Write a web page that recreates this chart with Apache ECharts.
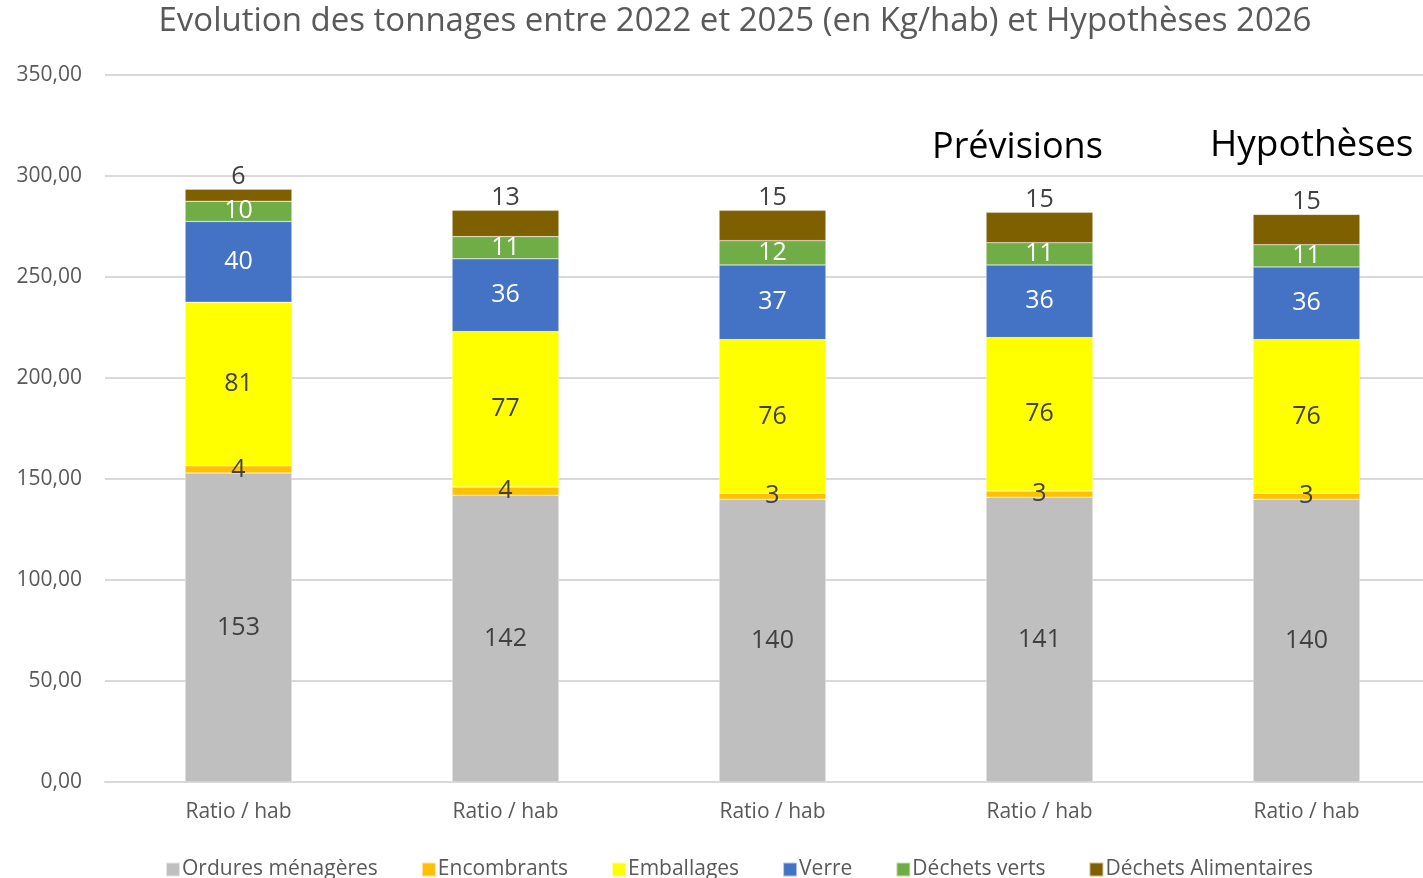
<!DOCTYPE html>
<html>
<head>
<meta charset="utf-8">
<script src="https://cdn.jsdelivr.net/npm/echarts@6/dist/echarts.min.js"></script>
<style>
  html, body { margin: 0; padding: 0; background: #fff; }
  #chart { width: 1423px; height: 878px; }
</style>
</head>
<body>
<div id="chart"></div>
<script>
// categories (one per year, all labelled the same in the source)
const categories = ['Ratio / hab', 'Ratio / hab ', 'Ratio / hab  ', 'Ratio / hab   ', 'Ratio / hab    ']
const yTicks = [0, 50, 100, 150, 200, 250, 300, 350]

// kg / habitant, 2022 -> 2026
const ordures = [153, 142, 140, 141, 140]
const encombrants = [3.5, 4, 3, 3, 3]
const emballages = [81, 77, 76, 76, 76]
const verre = [40, 36, 37, 36, 36]
const dechetsVerts = [10, 11, 12, 11, 11]
const dechetsAlim = [6, 13, 15, 15, 15]

const FONT = 'Open Sans'
const chart = echarts.init(document.getElementById('chart'))

function serie(name, data, color, labelColor, pos) {
  return {
    name: name,
    type: 'bar',
    stack: 'total',
    barWidth: '40%',
    data: data,
    itemStyle: { color: color, borderColor: 'rgba(255,255,255,0.6)', borderWidth: 0.5 },
    label: {
      show: true,
      position: pos || 'inside',
      distance: 0,
      color: labelColor,
      fontFamily: FONT,
      fontSize: 25,
      formatter: (p) => Math.round(p.value),
    },
  }
}

const option = {
  animation: false,
  backgroundColor: '#fff',
  title: {
    text: 'Evolution des tonnages entre 2022 et 2025 (en Kg/hab) et Hypothèses 2026',
    left: 730,
    textAlign: 'center',
    top: 0,
    textStyle: { fontFamily: FONT, fontSize: 33, fontWeight: 'normal', color: '#595959' },
  },
  legend: {
    bottom: -7,
    left: 160,
    itemWidth: 14,
    itemHeight: 14,
    itemGap: 43,
    icon: 'rect',
    textStyle: { fontFamily: FONT, fontSize: 21, color: '#595959', padding: [0, 0, 0, -3] },
  },
  // the plot runs past the right edge of the picture, as in the source
  grid: { left: 105, width: 1335, top: 75, height: 707, outerBoundsMode: 'none', containLabel: false },
  xAxis: {
    type: 'category',
    data: categories,
    axisLine: { lineStyle: { color: '#d9d9d9', width: 2 } },
    axisTick: { show: false },
    axisLabel: { margin: 20, fontFamily: FONT, fontSize: 21, color: '#595959', formatter: (v) => v.trim() },
  },
  yAxis: {
    type: 'value',
    min: yTicks[0],
    max: yTicks[yTicks.length - 1],
    interval: 50,
    axisLine: { show: false },
    axisTick: { show: false },
    splitLine: { lineStyle: { color: '#d9d9d9', width: 2 } },
    axisLabel: {
      margin: 23,
      fontFamily: FONT,
      fontSize: 21,
      color: '#595959',
      formatter: (v) => v.toFixed(2).replace('.', ','),
    },
  },
  series: [
    serie('Ordures ménagères', ordures, '#bfbfbf', '#404040'),
    serie('Encombrants', encombrants, '#ffc000', '#404040'),
    serie('Emballages', emballages, '#ffff00', '#404040'),
    serie('Verre', verre, '#4472c4', '#ffffff'),
    serie('Déchets verts', dechetsVerts, '#70ad47', '#ffffff'),
    serie('Déchets Alimentaires', dechetsAlim, '#7f6000', '#404040', 'top'),
  ],
  graphic: [
    { type: 'text', left: 932, top: 130, style: { text: 'Prévisions', fontFamily: FONT, fontSize: 36, fill: '#000' } },
    { type: 'text', left: 1210, top: 127, style: { text: 'Hypothèses', fontFamily: FONT, fontSize: 37, fill: '#000' } },
  ],
}

chart.setOption(option)
</script>
</body>
</html>
